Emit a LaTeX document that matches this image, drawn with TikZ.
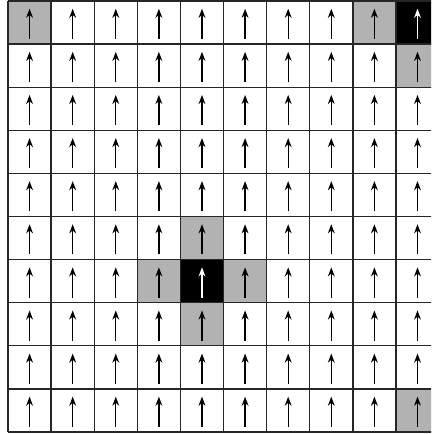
\documentclass[tikz,border=0pt]{standalone}
\usetikzlibrary{arrows.meta}
\tikzset{
  spin/.style={-{Stealth[length=6pt,width=4.5pt]}, line width=0.9pt},
  nbrcell/.style={fill=black!30},
  flipcell/.style={fill=black},
}
\begin{document}
\begin{tikzpicture}
\useasboundingbox (-0.186,-0.046) rectangle (9.814,10.023);
\clip (-0.186,-0.046) rectangle (9.814,10.023);
% corner site, periodic neighbours
\fill[nbrcell] (0,9) rectangle (1,10);
\fill[nbrcell] (8,9) rectangle (9,10);
\fill[nbrcell] (9,8) rectangle (10,9);
\fill[nbrcell] (9,0) rectangle (10,1);
\fill[flipcell] (9,9) rectangle (10,10);
% inner site
\fill[nbrcell] (4,4) rectangle (5,5);
\fill[nbrcell] (3,3) rectangle (4,4);
\fill[nbrcell] (5,3) rectangle (6,4);
\fill[nbrcell] (4,2) rectangle (5,3);
\fill[flipcell] (4,3) rectangle (5,4);
\draw[line width=0.9pt, black!85] (0,0) grid (10,10);
\foreach \i in {0,...,9}
  \foreach \j in {0,...,9}
    \draw[spin] (\i+0.5,\j+0.12) -- (\i+0.5,\j+0.82);
% white spins on the black sites
\draw[spin, white] (9.5,9.12) -- (9.5,9.82);
\draw[spin, white] (4.5,3.12) -- (4.5,3.82);
\end{tikzpicture}
\end{document}
